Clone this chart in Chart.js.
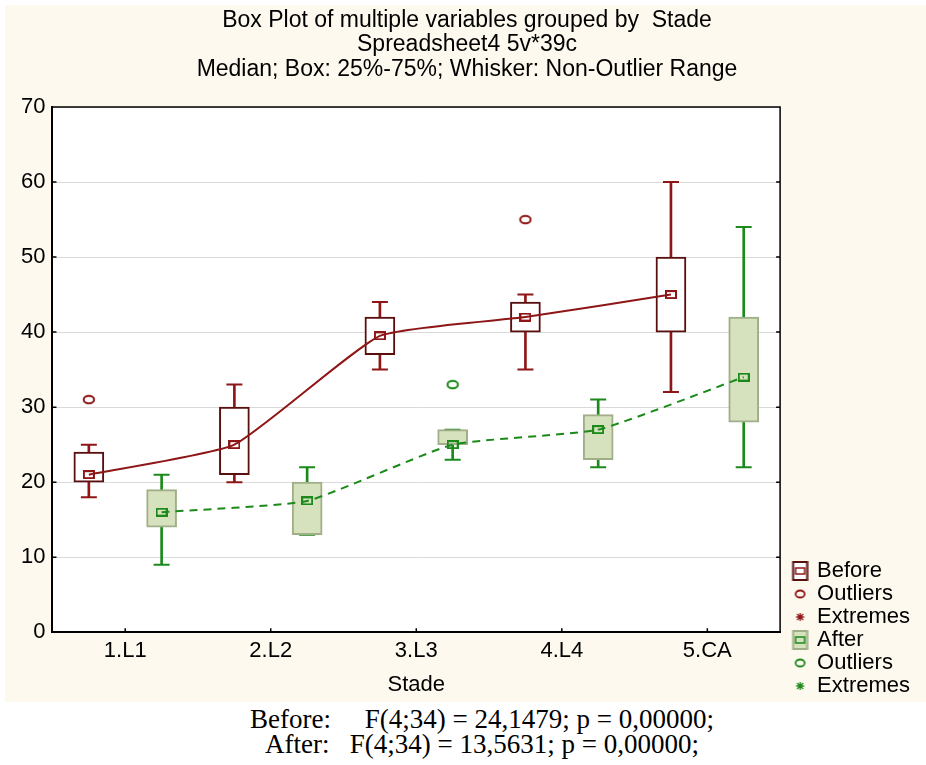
<!DOCTYPE html>
<html>
<head>
<meta charset="utf-8">
<script src="https://cdn.jsdelivr.net/npm/chart.js@4.4.1/dist/chart.umd.min.js"></script>
<style>
  body { margin: 0; background: #fff; width: 926px; height: 765px; position: relative; overflow: hidden; }
  #wrap { position: absolute; left: 5px; top: 5px; width: 921px; height: 697px; }
  #note { position: absolute; left: 38px; top: 707px; width: 888px; text-align: center;
          font-family: 'Times New Roman', 'Liberation Serif', serif; font-size: 27px; line-height: 25px;
          white-space: pre; color: #000; }
</style>
</head>
<body>
<div id="wrap"><canvas id="chart"></canvas></div>
<div id="note">Before:     F(4;34) = 24,1479; p = 0,00000;
After:   F(4;34) = 13,5631; p = 0,00000;</div>
<script>
// valeurs
const stades = ['1.L1', '2.L2', '3.L3', '4.L4', '5.CA'];

const beforeMin    = [18, 20, 35,   35, 32];
const beforeQ1     = [20, 21, 37,   40, 40];
const beforeMedian = [21, 25, 39.5, 42, 45];
const beforeQ3     = [24, 30, 42,   44, 50];
const beforeMax    = [25, 33, 44,   45, 60];
const beforeOutliers = [31, null, null, 55, null];

const afterMin    = [9,  13,   23, 22, 22];
const afterQ1     = [14, 13,   25, 23, 28];
const afterMedian = [16, 17.5, 25, 27, 34];
const afterQ3     = [19, 20,   27, 29, 42];
const afterMax    = [21, 22,   27, 31, 54];
const afterOutliers = [null, null, 33, null, null];

const RED = '#8E1616';
const RED_DARK = '#5A0F0F';
const GREEN = '#1B8A1B';
const GREEN_FILL = '#D6E1BD';
const GREEN_EDGE = '#A0AF88';
const FONT = 'Arial, "Liberation Sans", sans-serif';

const bx = i => i + 1 - 0.25;
const ax = i => i + 1 + 0.25;

function icon(w, h, draw) {
    const c = document.createElement('canvas');
    c.width = w;
    c.height = h;
    draw(c.getContext('2d'));
    return c;
}

const medianMark = color => icon(12, 9, ctx => {
    ctx.strokeStyle = color;
    ctx.lineWidth = 2;
    ctx.strokeRect(1, 1, 10, 7);
});
const outlierMark = color => icon(14, 11, ctx => {
    ctx.strokeStyle = color;
    ctx.lineWidth = 2;
    ctx.beginPath();
    ctx.ellipse(7, 5.5, 5.2, 3.8, 0, 0, Math.PI * 2);
    ctx.stroke();
});

// icones de légende : décalées vers la droite dans l'image
const legendIcon = draw => icon(30, 20, ctx => { ctx.translate(13.5, 0); draw(ctx); });
const boxIcon = (fill, edge, mid) => legendIcon(ctx => {
    ctx.fillStyle = fill;
    ctx.fillRect(1, 1, 14, 18);
    ctx.strokeStyle = edge;
    ctx.lineWidth = 2;
    ctx.strokeRect(1, 1, 14, 18);
    ctx.strokeStyle = mid;
    ctx.lineWidth = 1.5;
    ctx.strokeRect(3.5, 7, 9, 6);
});
const circleIcon = color => legendIcon(ctx => {
    ctx.strokeStyle = color;
    ctx.lineWidth = 1.8;
    ctx.beginPath();
    ctx.ellipse(8, 10, 4.5, 3.5, 0, 0, Math.PI * 2);
    ctx.stroke();
});
const starIcon = color => legendIcon(ctx => {
    ctx.strokeStyle = color;
    ctx.lineWidth = 1.3;
    ctx.beginPath();
    ctx.moveTo(4, 10); ctx.lineTo(12, 10);
    ctx.moveTo(8, 6); ctx.lineTo(8, 14);
    ctx.moveTo(5, 7); ctx.lineTo(11, 13);
    ctx.moveTo(11, 7); ctx.lineTo(5, 13);
    ctx.stroke();
});

const whisker = (xf, lo, hi, color) => ({
    type: 'bar',
    data: lo.map((v, i) => ({ x: xf(i), y: [v, hi[i]] })),
    backgroundColor: color,
    borderWidth: 0,
    barThickness: 2,
    grouped: false,
    order: 5,
});
const caps = (xf, lo, hi, color) => ({
    type: 'line',
    showLine: false,
    data: [...lo, ...hi].map((v, i) => ({ x: xf(i % lo.length), y: v })),
    pointStyle: 'line',
    pointRadius: 8,
    pointBorderWidth: 2,
    pointBorderColor: color,
    order: 4,
});
const box = (xf, q1, q3, fill, edge) => ({
    type: 'bar',
    data: q1.map((v, i) => ({ x: xf(i), y: [v, q3[i]] })),
    backgroundColor: fill,
    borderColor: edge,
    borderWidth: 2,
    borderSkipped: false,
    barThickness: 30,
    grouped: false,
    order: 3,
});
const outliers = (xf, vals, color) => ({
    type: 'line',
    showLine: false,
    data: vals.map((v, i) => (v == null ? null : { x: xf(i), y: v })).filter(Boolean),
    pointStyle: outlierMark(color),
    order: 2,
});
const medians = (xf, med, color, dash) => ({
    type: 'line',
    data: med.map((v, i) => ({ x: xf(i), y: v })),
    borderColor: color,
    borderWidth: 2,
    borderDash: dash,
    tension: 0.15,
    pointStyle: medianMark(color),
    order: 1,
});

const legendItems = [
    { text: 'Before',   pointStyle: boxIcon('#fff', RED_DARK, RED) },
    { text: 'Outliers', pointStyle: circleIcon(RED) },
    { text: 'Extremes', pointStyle: starIcon(RED) },
    { text: 'After',    pointStyle: boxIcon(GREEN_FILL, GREEN_EDGE, GREEN) },
    { text: 'Outliers', pointStyle: circleIcon(GREEN) },
    { text: 'Extremes', pointStyle: starIcon(GREEN) },
];

// fond crème, zone de tracé blanche, cadre et petites graduations intérieures
const frame = {
    id: 'frame',
    beforeDraw(chart) {
        const { ctx, chartArea: { left, top, right, bottom }, width, height } = chart;
        ctx.save();
        ctx.fillStyle = '#FDF9EE';
        ctx.fillRect(0, 0, width, height);
        ctx.fillStyle = '#fff';
        ctx.fillRect(left, top, right - left, bottom - top);
        ctx.restore();
    },
    afterDraw(chart) {
        const { ctx, chartArea: { left, top, right, bottom }, scales: { x, y } } = chart;
        ctx.save();
        ctx.strokeStyle = '#000';
        ctx.lineWidth = 1.5;
        ctx.beginPath();
        ctx.moveTo(left, top);
        ctx.lineTo(right, top);
        ctx.lineTo(right, bottom);
        y.ticks.forEach(t => {
            const py = y.getPixelForValue(t.value);
            ctx.moveTo(right - 4, py);
            ctx.lineTo(right, py);
            ctx.moveTo(left, py);
            ctx.lineTo(left + 4, py);
        });
        x.ticks.forEach(t => {
            const px = x.getPixelForValue(t.value);
            ctx.moveTo(px, bottom);
            ctx.lineTo(px, bottom - 4);
        });
        ctx.stroke();
        ctx.restore();
    },
};

new Chart(document.getElementById('chart'), {
    type: 'bar',
    plugins: [frame],
    data: {
        datasets: [
            whisker(bx, beforeMin, beforeMax, RED),
            whisker(ax, afterMin, afterMax, GREEN),
            caps(bx, beforeMin, beforeMax, RED),
            caps(ax, afterMin, afterMax, GREEN),
            box(bx, beforeQ1, beforeQ3, '#fff', RED_DARK),
            box(ax, afterQ1, afterQ3, GREEN_FILL, GREEN_EDGE),
            outliers(bx, beforeOutliers, RED),
            outliers(ax, afterOutliers, GREEN),
            medians(bx, beforeMedian, RED, []),
            medians(ax, afterMedian, GREEN, [8, 6]),
        ],
    },
    options: {
        responsive: true,
        maintainAspectRatio: false,
        animation: false,
        events: [],
        layout: { padding: { left: 9, right: 6, top: 0, bottom: 4 } },
        plugins: {
            tooltip: { enabled: false },
            title: {
                display: true,
                text: [
                    'Box Plot of multiple variables grouped by  Stade',
                    'Spreadsheet4 5v*39c',
                    'Median; Box: 25%-75%; Whisker: Non-Outlier Range',
                ],
                color: '#000',
                font: { family: FONT, size: 23, weight: 'normal', lineHeight: 1.07 },
                padding: { top: 3.2, bottom: 25 },
            },
            legend: {
                position: 'right',
                align: 'end',
                onClick: () => {},
                labels: {
                    usePointStyle: true,
                    pointStyleWidth: 25,
                    boxHeight: 18,
                    padding: 1,
                    color: '#000',
                    font: { family: FONT, size: 22 },
                    generateLabels: () => legendItems.map(it => ({
                        text: it.text,
                        pointStyle: it.pointStyle,
                        fontColor: '#000',
                        lineWidth: 0,
                        hidden: false,
                    })),
                },
            },
        },
        scales: {
            x: {
                type: 'linear',
                min: 0.5,
                max: 5.5,
                offset: false,
                afterBuildTicks: axis => { axis.ticks = stades.map((_, i) => ({ value: i + 1 })); },
                grid: { display: false, drawTicks: false },
                border: { color: '#000', width: 2 },
                ticks: {
                    color: '#000',
                    font: { family: FONT, size: 22 },
                    padding: 6,
                    autoSkip: false,
                    maxRotation: 0,
                    callback: v => stades[v - 1],
                },
                title: {
                    display: true,
                    text: 'Stade',
                    color: '#000',
                    font: { family: FONT, size: 22 },
                    padding: { top: 1, bottom: 0 },
                },
            },
            y: {
                min: 0,
                max: 70,
                grid: { color: '#DADADA', drawTicks: false },
                border: { color: '#000', width: 2 },
                ticks: {
                    stepSize: 10,
                    color: '#000',
                    font: { family: FONT, size: 22 },
                    padding: 7,
                },
            },
        },
    },
});
</script>
</body>
</html>
